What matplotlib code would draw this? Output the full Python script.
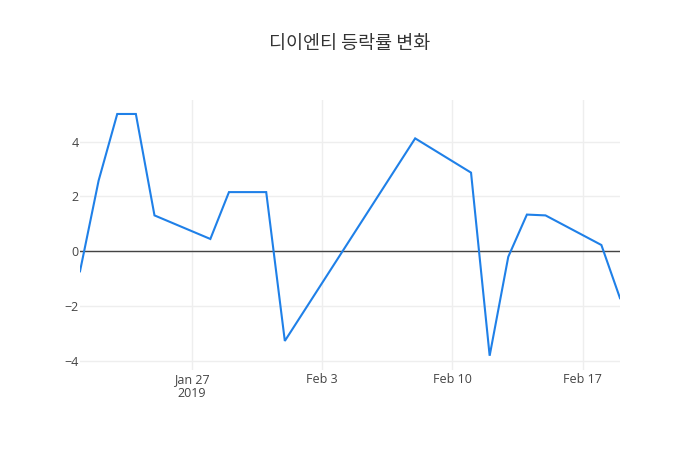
import numpy as np
import pandas as pd
import matplotlib
matplotlib.use('Agg')
import matplotlib.pyplot as plt
import matplotlib.dates as mdates

plt.rcParams['font.family'] = ['Open Sans', 'Noto Sans CJK KR', 'DejaVu Sans']

# 거래일과 등락률
dates = ['2019-01-21', '2019-01-22', '2019-01-23', '2019-01-24', '2019-01-25',
         '2019-01-28', '2019-01-29', '2019-01-30', '2019-01-31', '2019-02-01',
         '2019-02-08', '2019-02-11', '2019-02-12', '2019-02-13', '2019-02-14',
         '2019-02-15', '2019-02-18', '2019-02-19']
rates = [-0.73, 2.58, 5.01, 5.01, 1.31,
         0.45, 2.16, 2.16, 2.16, -3.27,
         4.12, 2.87, -3.81, -0.20, 1.34,
         1.31, 0.23, -1.71]
tick_dates = ['2019-01-27', '2019-02-03', '2019-02-10', '2019-02-17']
tick_labels = ['Jan 27\n2019', 'Feb 3', 'Feb 10', 'Feb 17']
y_ticks = [-4, -2, 0, 2, 4]
title = '디이엔티 등락률 변화'

x = pd.to_datetime(dates)

fig = plt.figure(figsize=(7, 4.5), dpi=100)
ax = fig.add_axes([80 / 700, 80 / 450, 540 / 700, 270 / 450])

ax.plot(x, rates, color='#1f80e8', linewidth=1.5, zorder=3, solid_joinstyle='miter')
ax.axhline(0, color='#444444', linewidth=1, zorder=2)

ax.set_xlim(x[0], x[-1])
ax.set_ylim(-4.33, 5.52)
ax.set_xticks(pd.to_datetime(tick_dates))
ax.set_xticklabels(tick_labels, linespacing=1.1)
ax.set_yticks(y_ticks)
ax.set_yticklabels([str(v) if v >= 0 else '\u2212' + str(-v) for v in y_ticks])

ax.grid(True, color='#eeeeee', linewidth=1, zorder=0)
ax.set_axisbelow(True)
for s in ax.spines.values():
    s.set_visible(False)
ax.tick_params(length=0, labelsize=9, colors='#444444')
ax.tick_params(axis='x', pad=2)
ax.tick_params(axis='y', pad=1)

fig.text(0.5, 1 - 44 / 450, title, ha='center', va='center', fontsize=13.3,
         color='#333333', family=['Noto Sans CJK KR', 'DejaVu Sans'])

fig.savefig('out.png', dpi=100, facecolor='white')
